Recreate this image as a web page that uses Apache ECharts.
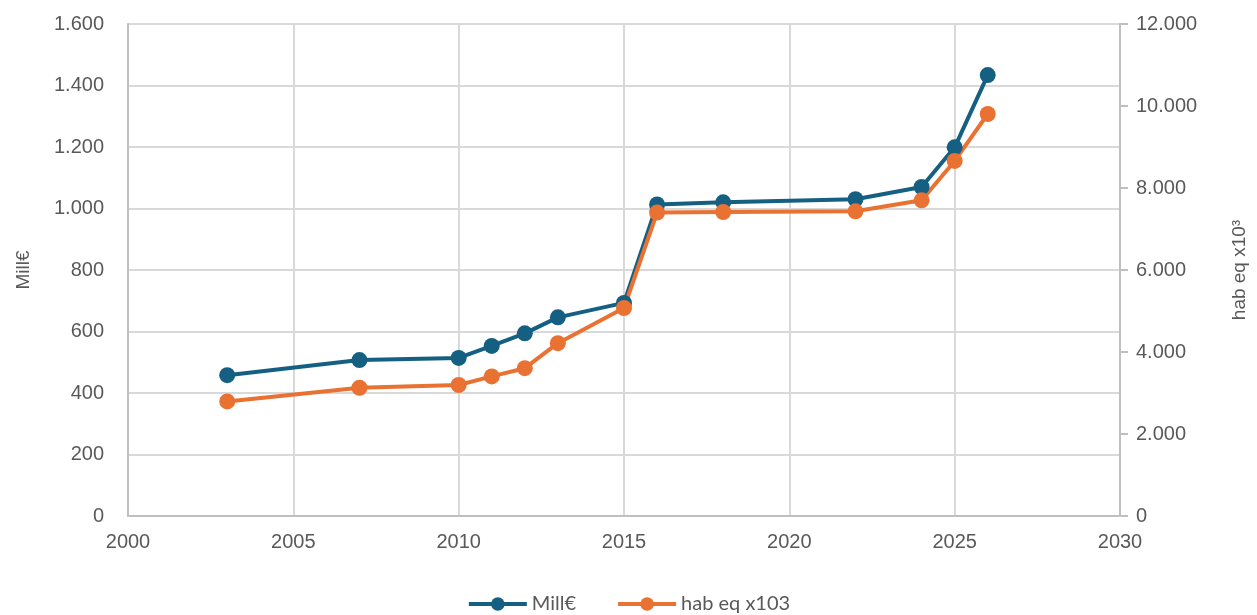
<!DOCTYPE html>
<html>
<head>
<meta charset="utf-8">
<script src="https://cdn.jsdelivr.net/npm/echarts@6/dist/echarts.min.js"></script>
<style>
  html, body { margin: 0; padding: 0; background: #fff; }
  #charts { width: 1257px; height: 615px; }
</style>
</head>
<body>
<div id="charts"></div>
<script>
// years and values
var years = [2003, 2007, 2010, 2011, 2012, 2013, 2015, 2016, 2018, 2022, 2024, 2025, 2026];
var millEuro = [458, 507, 514, 553, 594, 646, 693, 1013, 1020, 1030, 1070, 1199, 1434];
var habEq = [2795, 3128, 3195, 3405, 3605, 4215, 5073, 7400, 7415, 7431, 7700, 8660, 9805];

var leftTicks = { min: 0, max: 1600, interval: 200 };
var rightTicks = { min: 0, max: 12000, interval: 2000 };

function fmt(v) {
    return String(v).replace(/\B(?=(\d{3})+(?!\d))/g, '.');
}

function pairs(xs, ys) {
    var out = [];
    for (var i = 0; i < xs.length; i++) out.push([xs[i], ys[i]]);
    return out;
}

var chart = echarts.init(document.getElementById('charts'));

var FONT = '"Liberation Sans"';
var gridLine = { show: true, lineStyle: { color: '#d9d9d9', width: 2 } };

chart.setOption({
    animation: false,
    textStyle: { fontFamily: FONT },
    grid: { left: 128, right: 137, top: 24, bottom: 99 },
    legend: {
        bottom: -4,
        left: 'center',
        itemWidth: 58,
        itemHeight: 17,
        itemGap: 40,
        lineStyle: { width: 4 },
        textStyle: { color: '#595959', fontSize: 20, fontFamily: 'Lato' },
        data: ['Mill€', 'hab eq x103']
    },
    xAxis: {
        type: 'value',
        min: 2000, max: 2030, interval: 5,
        axisLine: { show: true, lineStyle: { color: '#bfbfbf', width: 2 } },
        axisTick: { show: false },
        splitLine: gridLine,
        axisLabel: { margin: 16, color: '#595959', fontSize: 20, fontFamily: FONT, formatter: function (v) { return String(v); } }
    },
    yAxis: [{
        type: 'value',
        name: 'Mill€',
        nameLocation: 'middle',
        nameGap: 95,
        nameRotate: 90,
        nameTextStyle: { color: '#595959', fontSize: 19, fontFamily: FONT },
        min: leftTicks.min, max: leftTicks.max, interval: leftTicks.interval,
        axisLine: { show: true, lineStyle: { color: '#bfbfbf', width: 2 } },
        axisTick: { show: false },
        splitLine: gridLine,
        axisLabel: { margin: 24, color: '#595959', fontSize: 20, fontFamily: FONT, formatter: fmt }
    }, {
        type: 'value',
        name: 'hab eq x10³',
        nameLocation: 'middle',
        nameGap: 110,
        nameRotate: 90,
        nameTextStyle: { color: '#595959', fontSize: 19, fontFamily: FONT },
        position: 'right',
        min: rightTicks.min, max: rightTicks.max, interval: rightTicks.interval,
        axisLine: { show: true, lineStyle: { color: '#bfbfbf', width: 2 } },
        axisTick: { show: true, length: 8, lineStyle: { color: '#bfbfbf', width: 2 } },
        splitLine: { show: false },
        axisLabel: { margin: 16, color: '#595959', fontSize: 20, fontFamily: FONT, formatter: fmt }
    }],
    series: [{
        name: 'Mill€',
        type: 'line',
        yAxisIndex: 0,
        data: pairs(years, millEuro),
        symbol: 'circle',
        symbolSize: 16,
        itemStyle: { color: '#156082' },
        lineStyle: { color: '#156082', width: 4 }
    }, {
        name: 'hab eq x103',
        type: 'line',
        yAxisIndex: 1,
        data: pairs(years, habEq),
        symbol: 'circle',
        symbolSize: 16,
        itemStyle: { color: '#E97132' },
        lineStyle: { color: '#E97132', width: 4 }
    }]
});
</script>
</body>
</html>
